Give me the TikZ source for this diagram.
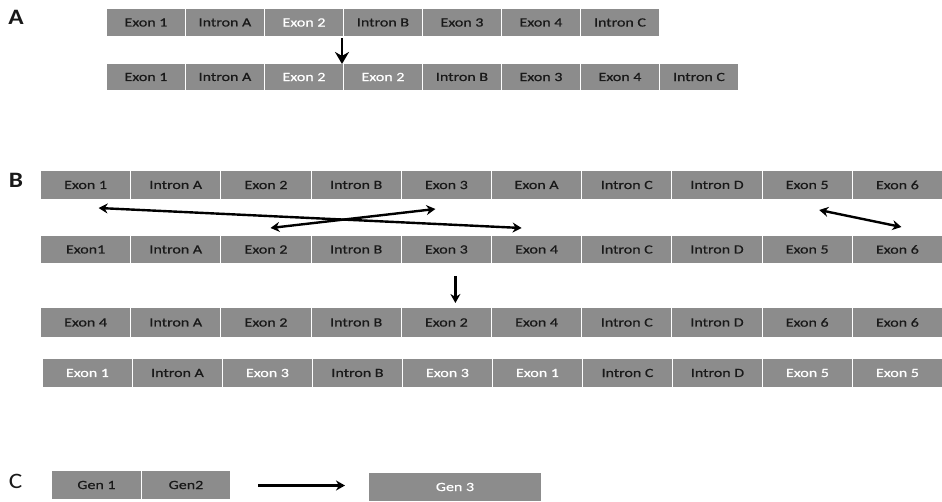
\documentclass[tikz,border=0pt]{standalone}
\usepackage{fontspec}
\setmainfont{Carlito}[FakeStretch=1.28,FakeBold=0.6]
\newfontfamily\panelfont{Carlito}[FakeStretch=1.15]
\usetikzlibrary{arrows.meta,calc}
\definecolor{boxgray}{RGB}{140,140,140}
\definecolor{txtdark}{RGB}{25,25,25}
\tikzset{
  gene/.style={draw=white, line width=1pt, fill=boxgray, inner sep=0pt, anchor=north west,
    font=\fontsize{12.5}{13}\selectfont},
  dk/.style={text=txtdark},
  hl/.style={text=white},
  panel/.style={font=\panelfont\fontsize{22}{22}\selectfont\bfseries, text=txtdark, inner sep=0pt},
  panelreg/.style={font=\panelfont\fontsize{22}{22}\selectfont, text=txtdark, inner sep=0pt},
  arr/.style={line width=2.4pt, -{Stealth[length=9pt,width=10pt]}},
  bigarr/.style={line width=2pt, -{Stealth[length=12pt,width=14pt]}},
  darr/.style={line width=2.4pt, {Stealth[length=9pt,width=10pt]}-{Stealth[length=9pt,width=10pt]}},
}
\begin{document}
\begin{tikzpicture}[x=1pt,y=-1pt]
\useasboundingbox (0,0) rectangle (942,502);
% panel letters
\node[panel] (lA) at (16,17) {A};
\node[panel] (lB) at (16,180) {B};
\node[panelreg] (lC) at (15.5,481) {C};
% Panel A
\foreach \t/\s [count=\i] in {Exon 1/dk, Intron A/dk, Exon 2/hl, Intron B/dk, Exon 3/dk, Exon 4/dk, Intron C/dk}
  \node[gene,\s, minimum width=79pt, minimum height=28pt] (a1-\i) at ({106+79*(\i-1)},8) {\t};
\foreach \t/\s [count=\i] in {Exon 1/dk, Intron A/dk, Exon 2/hl, Exon 2/hl, Intron B/dk, Exon 3/dk, Exon 4/dk, Intron C/dk}
  \node[gene,\s, minimum width=79pt, minimum height=27pt] (a2-\i) at ({106+79*(\i-1)},63) {\t};
\draw[bigarr] ($(a1-3.south east)+(-2,1)$) -- ($(a2-3.north east)+(-2,1)$);
% Panel B
\foreach \t/\s [count=\i] in {Exon 1/dk, Intron A/dk, Exon 2/dk, Intron B/dk, Exon 3/dk, Exon A/dk, Intron C/dk, Intron D/dk, Exon 5/dk, Exon 6/dk}
  \node[gene,\s, minimum width=90.2pt, minimum height=29pt] (b1-\i) at ({40+90.2*(\i-1)},170) {\t};
\foreach \t/\s [count=\i] in {Exon1/dk, Intron A/dk, Exon 2/dk, Intron B/dk, Exon 3/dk, Exon 4/dk, Intron C/dk, Intron D/dk, Exon 5/dk, Exon 6/dk}
  \node[gene,\s, minimum width=90.2pt, minimum height=28pt] (b2-\i) at ({40+90.2*(\i-1)},235) {\t};
\foreach \t/\s [count=\i] in {Exon 4/dk, Intron A/dk, Exon 2/dk, Intron B/dk, Exon 2/dk, Exon 4/dk, Intron C/dk, Intron D/dk, Exon 6/dk, Exon 6/dk}
  \node[gene,\s, minimum width=90.2pt, minimum height=30pt] (b3-\i) at ({40+90.2*(\i-1)},307) {\t};
\foreach \t/\s [count=\i] in {Exon 1/hl, Intron A/dk, Exon 3/hl, Intron B/dk, Exon 3/hl, Exon 1/hl, Intron C/dk, Intron D/dk, Exon 5/hl, Exon 5/hl}
  \node[gene,\s, minimum width=90pt, minimum height=29pt] (b4-\i) at ({42+90*(\i-1)},358) {\t};
\draw[darr] ($(b1-1.south)+(13,8)$) -- ($(b2-6.north)+(-15,-7)$);
\draw[darr] ($(b2-3.north)+(4.5,-7)$) -- ($(b1-5.south)+(-11,9)$);
\draw[darr] ($(b1-9.south)+(12,10)$) -- ($(b2-10.north)+(4,-8)$);
\draw[arr] ($(b2-5.south)+(9,12)$) -- ($(b3-5.north)+(9,-4)$);
% Panel C
\node[gene,dk, minimum width=90pt, minimum height=29pt] (c1) at (51,470) {Gen 1};
\node[gene,dk, minimum width=89pt, minimum height=29pt] (c2) at (141,470) {Gen2};
\node[gene,hl, minimum width=173pt, minimum height=29pt] (c3) at (368,472) {Gen 3};
\draw[arr] ($(c2.east)+(27,0.5)$) -- ($(c3.west)+(-23,-1.5)$);
\end{tikzpicture}
\end{document}
